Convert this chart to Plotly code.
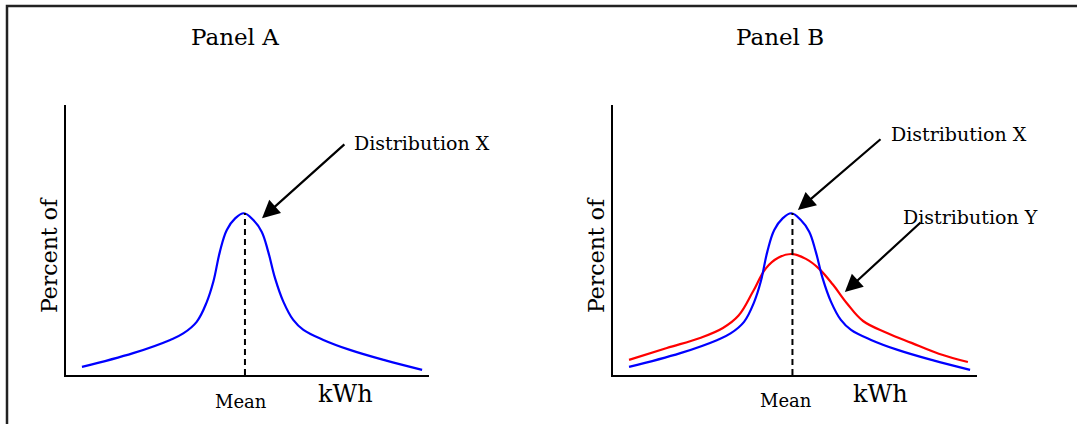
import plotly.graph_objects as go

# ---------------- data ----------------
x_blue = [4.4, 18.5, 28.7, 32.3, 36.0, 38.8, 40.6, 42.4, 44.3, 46.6, 49.0, 51.6, 53.9, 55.7, 57.6, 59.9,
          62.6, 65.4, 70.9, 78.2, 88.0, 98.1]
y_blue = [3.0, 8.1, 13.0, 15.4, 19.7, 27.1, 34.6, 45.7, 53.7, 58.0, 59.9, 57.4, 53.1, 45.7, 35.8, 27.1,
          20.4, 16.7, 13.0, 9.3, 5.4, 1.9]

x_red = [4.4, 14.8, 23.9, 30.2, 34.5, 38.5, 42.0, 45.5, 49.2, 53.0, 56.5, 60.4, 64.3, 68.7, 75.3, 82.0, 89.5, 97.5]
y_red = [5.6, 10.0, 13.7, 17.4, 22.0, 31.0, 39.5, 43.5, 44.8, 43.0, 39.5, 33.5, 26.5, 20.0, 15.6, 11.9, 7.9, 4.8]

mean_x = 49.3
mean_peak = 60.0

panel_titles = ["Panel A", "Panel B"]
y_title = "Percent of"
x_title = "kWh"
mean_label = "Mean"
label_x = "Distribution X"
label_y = "Distribution Y"

W, H = 1077, 424
FONT = "DejaVu Serif"
BLUE = "#0000FF"
RED = "#FF0000"

def px_x(p):
    return p / W

def px_y(p):
    return (H - p) / H

line_style = dict(width=2.2, shape="spline", smoothing=1.1)

fig = go.Figure()
# Panel A
fig.add_trace(go.Scatter(x=x_blue, y=y_blue, mode="lines", line=dict(color=BLUE, **line_style),
                         xaxis="x", yaxis="y", showlegend=False, hoverinfo="skip"))
# Panel B
fig.add_trace(go.Scatter(x=x_red, y=y_red, mode="lines", line=dict(color=RED, **line_style),
                         xaxis="x2", yaxis="y2", showlegend=False, hoverinfo="skip"))
fig.add_trace(go.Scatter(x=x_blue, y=y_blue, mode="lines", line=dict(color=BLUE, **line_style),
                         xaxis="x2", yaxis="y2", showlegend=False, hoverinfo="skip"))

ax_common = dict(range=[0, 100], showgrid=False, zeroline=False, showticklabels=False, ticks="",
                 showline=True, linecolor="black", linewidth=2, mirror=False, fixedrange=True)

y_dom = [px_y(375), px_y(105)]
fig.update_layout(
    width=W, height=H,
    margin=dict(l=0, r=0, t=0, b=0),
    paper_bgcolor="white", plot_bgcolor="white",
    xaxis=dict(domain=[px_x(66), px_x(429)], anchor="y", **ax_common),
    yaxis=dict(domain=y_dom, anchor="x", **ax_common),
    xaxis2=dict(domain=[px_x(613), px_x(977)], anchor="y2", **ax_common),
    yaxis2=dict(domain=y_dom, anchor="x2", **ax_common),
    font=dict(family=FONT, color="black"),
)

shapes = []
# outer frame
shapes.append(dict(type="rect", xref="paper", yref="paper", x0=px_x(7), x1=1.02, y0=-0.05, y1=px_y(6),
                   line=dict(color="#222222", width=2.5), fillcolor="rgba(0,0,0,0)", layer="above"))
for xr, yr in [("x", "y"), ("x2", "y2")]:
    shapes.append(dict(type="line", xref=xr, yref=yr, x0=mean_x, x1=mean_x, y0=0, y1=mean_peak,
                       line=dict(color="black", width=2, dash="6px,4px")))
fig.update_layout(shapes=shapes)

ann = []
# panel titles
ann.append(dict(text=panel_titles[0], x=px_x(235), y=px_y(37), xref="paper", yref="paper", showarrow=False,
                font=dict(size=23, family=FONT), xanchor="center", yanchor="middle"))
ann.append(dict(text=panel_titles[1], x=px_x(780), y=px_y(37), xref="paper", yref="paper", showarrow=False,
                font=dict(size=23, family=FONT), xanchor="center", yanchor="middle"))
# y titles
for xp in [50, 597]:
    ann.append(dict(text=y_title, x=px_x(xp), y=px_y(255), xref="paper", yref="paper", showarrow=False,
                    textangle=-90, font=dict(size=22, family=FONT), xanchor="center", yanchor="middle"))
# Mean labels
ann.append(dict(text=mean_label, x=mean_x, y=px_y(401), xref="x", yref="paper", showarrow=False, xshift=-4,
                font=dict(size=18, family=FONT), xanchor="center", yanchor="middle"))
ann.append(dict(text=mean_label, x=mean_x, y=px_y(400), xref="x2", yref="paper", showarrow=False, xshift=-6,
                font=dict(size=18, family=FONT), xanchor="center", yanchor="middle"))
# kWh labels
ann.append(dict(text=x_title, x=77.1, y=px_y(394), xref="x", yref="paper", showarrow=False,
                font=dict(size=24, family=FONT), xanchor="center", yanchor="middle"))
ann.append(dict(text=x_title, x=73.6, y=px_y(394), xref="x2", yref="paper", showarrow=False,
                font=dict(size=24, family=FONT), xanchor="center", yanchor="middle"))
# distribution labels
ann.append(dict(text=label_x, x=78.8, y=85.9, xref="x", yref="y", showarrow=False,
                font=dict(size=19, family=FONT), xanchor="left", yanchor="middle"))
ann.append(dict(text=label_x, x=75.8, y=89.3, xref="x2", yref="y2", showarrow=False,
                font=dict(size=19, family=FONT), xanchor="left", yanchor="middle"))
ann.append(dict(text=label_y, x=79.1, y=58.5, xref="x2", yref="y2", showarrow=False,
                font=dict(size=19, family=FONT), xanchor="left", yanchor="middle"))
# arrows
arrows = [("x", "y", 77.1, 85.9, 54.0, 58.1),
          ("x2", "y2", 73.9, 87.8, 50.8, 61.1),
          ("x2", "y2", 84.9, 57.0, 63.7, 30.7)]
for xr, yr, tx, ty, hx, hy in arrows:
    ann.append(dict(text="", x=hx, y=hy, ax=tx, ay=ty, xref=xr, yref=yr, axref=xr, ayref=yr,
                    showarrow=True, arrowhead=2, arrowsize=1.6, arrowwidth=2.2, arrowcolor="black",
                    standoff=0, startstandoff=0))
fig.update_layout(annotations=ann)

fig.write_html("out.html", config={"displayModeBar": False},
               post_script="document.body.style.margin='0px';document.body.style.padding='0px';")
